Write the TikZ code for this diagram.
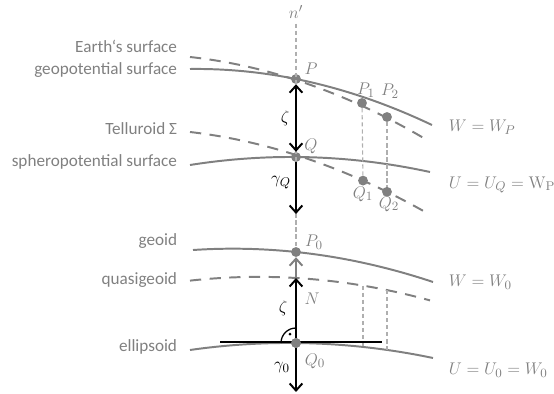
\documentclass[tikz,border=0pt]{standalone}
\usepackage[no-math]{fontspec}
\setmainfont{Carlito}
\usetikzlibrary{arrows.meta, positioning}
\usepackage{xcolor}
\definecolor{surfgray}{RGB}{128,128,128}
\definecolor{axisgray}{RGB}{175,175,175}

\begin{document}
\begin{tikzpicture}[x=0.025cm, y=0.025cm,
    declare function={
      earth(\x)=314-32.48*((\x-296)/100)-10.17*((\x-296)/100)^2;
      geopot(\x)=315-20.12*((\x-296)/100)-10.08*((\x-296)/100)^2;
      tellur(\x)=239-31.8*((\x-296)/100)-9.53*((\x-296)/100)^2;
      sphero(\x)=237-0.73*((\x-296)/100)-7.81*((\x-296)/100)^2;
      geoid(\x)=142-10.5*((\x-296)/100)-8.32*((\x-296)/100)^2;
      quasi(\x)=116-6*((\x-296)/100)-8*((\x-296)/100)^2;
      ellip(\x)=51-1.05*((\x-296)/100)-7.22*((\x-296)/100)^2;
    },
    surface/.style={draw=surfgray, line width=1.4pt, samples=50},
    dashsurface/.style={surface, dash pattern=on 8pt off 6pt},
    axisline/.style={draw=axisgray, line width=0.8pt, dash pattern=on 3pt off 2pt},
    pointdot/.style={circle, fill=surfgray, inner sep=0pt, minimum size=7pt},
    surflabel/.style={anchor=east, text=surfgray, font=\fontsize{12.2}{14}\selectfont},
    mathlabel/.style={text=surfgray, font=\fontsize{13}{15}\selectfont},
    blacklabel/.style={text=black, font=\fontsize{13}{15}\selectfont},
    heightarrow/.style={line width=1.4pt, >={Straight Barb[length=5pt, width=9pt]}}]
  \useasboundingbox (0,0) rectangle (554,394);

  % surfaces, upper half
  \draw[dashsurface] plot[domain=190:427] (\x,{earth(\x)});
  \draw[surface] plot[domain=190:432] (\x,{geopot(\x)});
  \draw[dashsurface] plot[domain=190:427] (\x,{tellur(\x)});
  \draw[surface] plot[domain=190:430] (\x,{sphero(\x)});

  % surfaces, lower half
  \draw[surface] plot[domain=193:433] (\x,{geoid(\x)});
  \draw[dashsurface] plot[domain=190:430] (\x,{quasi(\x)});
  \draw[surface] plot[domain=190:433] (\x,{ellip(\x)});

  % left labels
  \node[surflabel] (earthlbl) at (182,348) {Earth‘s surface};
  \node[surflabel] (geopotlbl) at (182,324) {geopotential surface};
  \node[surflabel] (tellurlbl) at (182,265) {Telluroid Σ};
  \node[surflabel] (spherolbl) at (182,232) {spheropotential surface};
  \node[surflabel] (geoidlbl) at (182,153) {geoid};
  \node[surflabel] (quasilbl) at (182,114) {quasigeoid};
  \node[surflabel] (elliplbl) at (182,47) {ellipsoid};

  % points
  \node[pointdot] (P) at (296,315) {};
  \node[pointdot] (Q) at (296,237) {};
  \node[pointdot] (P1) at (362,291) {};
  \node[pointdot] (P2) at (387,277) {};
  \node[pointdot] (Q1) at (363,{tellur(363)}) {};
  \node[pointdot] (Q2) at (387,{tellur(387)}) {};
  \node[pointdot] (P0) at (296,142) {};
  \node[pointdot] (Q0) at (296,51) {};
  \coordinate (N0) at (296,116);
  \coordinate (gQ) at (296,180);
  \coordinate (g0) at (296,2);
  \coordinate (A1) at (363,{quasi(363)});
  \coordinate (B1) at (363,{ellip(363)});
  \coordinate (A2) at (387,{quasi(387)});
  \coordinate (B2) at (387,{ellip(387)});
  \coordinate (tl) at (220,52);
  \coordinate (tr) at (382,52);

  % normal and plumb lines
  \node[mathlabel] (n) at (296,382) {$n'$};
  \draw[axisline] (n) -- (P0);
  \draw[axisline] (P1) -- (Q1);
  \draw[axisline] (P2) -- (Q2);
  \draw[axisline] (A1) -- (B1);
  \draw[axisline] (A2) -- (B2);

  % heights and gravity
  \draw[heightarrow, <->] (P) -- (Q);
  \draw[heightarrow, ->] (Q) -- (gQ);
  \draw[heightarrow, ->, draw=surfgray] (N0) -- (P0);
  \draw[heightarrow, ->] (Q0) -- (N0);
  \draw[heightarrow, ->] (Q0) -- (g0);
  \draw[line width=0.8pt] (tl) -- (tr);
  \draw[line width=0.9pt] ([xshift=-0.375cm]Q0.center) arc[start angle=180, end angle=90, radius=0.375cm];
  \fill ([xshift=-0.15cm, yshift=0.22cm]Q0.center) circle (1.1pt);
  \node[pointdot] at (Q0) {};

  % point labels
  \node[mathlabel] (lP) at (311,325) {$P$};
  \node[mathlabel] (lP1) at (366,304) {$P_1$};
  \node[mathlabel] (lP2) at (390,303) {$P_2$};
  \node[mathlabel] (lQ) at (311,248) {$Q$};
  \node[mathlabel] (lQ1) at (363,200) {$Q_1$};
  \node[mathlabel] (lQ2) at (389,190) {$Q_2$};
  \node[mathlabel] (lP0) at (314,152) {$P_0$};
  \node[mathlabel] (lN) at (312,95) {$N$};
  \node[mathlabel] (lQ0) at (315,33) {$Q_0$};
  \node[blacklabel] (zeta1) at (285,276) {$\zeta$};
  \node[blacklabel] (gamQ) at (281,211) {$\gamma_Q$};
  \node[blacklabel] (zeta2) at (283,86) {$\zeta$};
  \node[blacklabel] (gam0) at (282,26) {$\gamma_0$};

  % potential values
  \node[mathlabel, anchor=west] (WP) at (444,267) {$W=W_P$};
  \node[mathlabel, anchor=west] (UQ) at (444,209) {$U=U_Q=\mathrm{W_P}$};
  \node[mathlabel, anchor=west] (W0) at (444,112) {$W=W_0$};
  \node[mathlabel, anchor=west] (U0) at (444,24) {$U=U_0=W_0$};
\end{tikzpicture}
\end{document}
